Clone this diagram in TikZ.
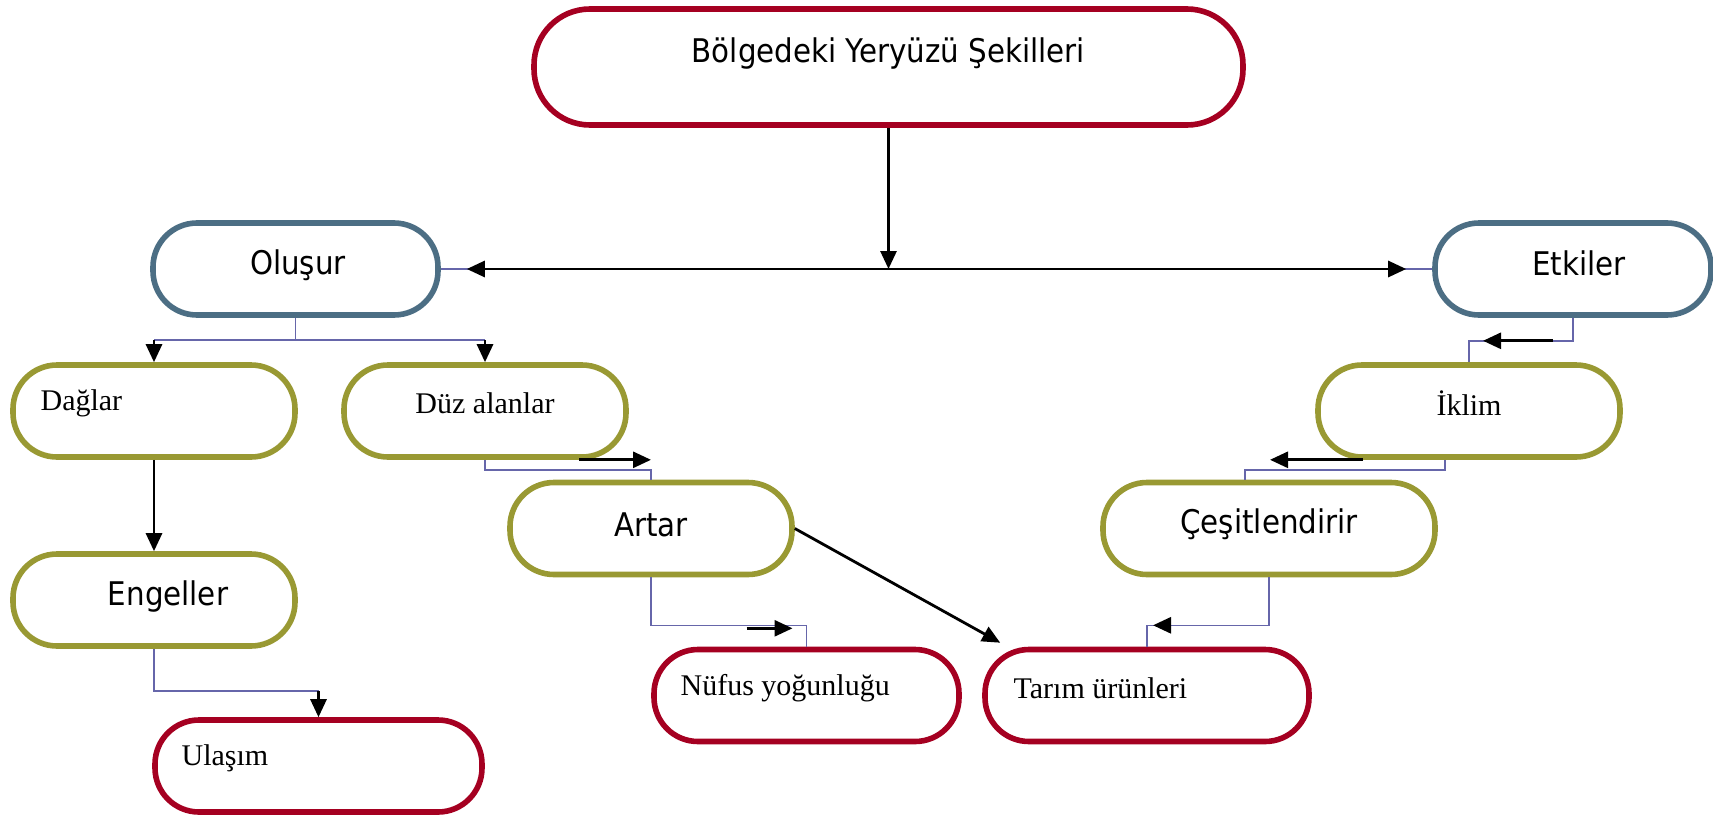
\documentclass[tikz,border=0pt]{standalone}
\usepackage{fontspec}
\setmainfont{Liberation Serif}
\newfontfamily\labelsans{DejaVu Sans Condensed}
\usetikzlibrary{arrows.meta,calc}
\definecolor{mapred}{RGB}{165, 0, 33}
\definecolor{mapslate}{RGB}{76, 110, 132}
\definecolor{mapolive}{RGB}{153, 153, 51}
\definecolor{linkblue}{RGB}{102, 102, 170}

\tikzset{
  pill/.style={draw, fill=white, line width=2.8pt, rounded corners=22pt, minimum height=46pt, inner sep=0pt},
  lblsans/.style={font=\labelsans\fontsize{16.3}{19}\selectfont, inner sep=0pt},
  lblserif/.style={font=\fontsize{15}{18}\selectfont, inner sep=0pt},
  conn/.style={draw=linkblue, line width=0.8pt},
  arr/.style={black, line width=1.4pt}
}

\begin{document}
\begin{tikzpicture}[x=0.5pt, y=-0.5pt, >={Triangle[length=9pt, width=8pt]}]
    \useasboundingbox (0,0) rectangle (1713,819);

    % Title box and the two main branches
    \node[pill, draw=mapred, minimum width=354.5pt, minimum height=58pt, rounded corners=28pt,
        label={[lblsans, yshift=6.75pt]center:Bölgedeki Yeryüzü Şekilleri}] (top) at (888.5, 67) {};
    \node[pill, draw=mapslate, minimum width=142.5pt,
        label={[lblsans, xshift=1.25pt, yshift=1.75pt]center:Oluşur}] (olusur) at (295.5, 269) {};
    \node[pill, draw=mapslate, minimum width=138pt,
        label={[lblsans, xshift=3pt, yshift=3pt]center:Etkiler}] (etkiler) at (1573, 269) {};

    % Left side
    \node[pill, draw=mapolive, minimum width=141pt,
        label={[lblserif, anchor=west, xshift=15pt, yshift=4pt]west:Dağlar}] (daglar) at (154, 411) {};
    \node[pill, draw=mapolive, minimum width=141pt,
        label={[lblserif, yshift=4pt]center:Düz alanlar}] (duz) at (485, 411) {};
    \node[pill, draw=mapolive, minimum width=141pt,
        label={[lblsans, xshift=7pt, yshift=1.75pt]center:Engeller}] (engeller) at (154, 600) {};
    \node[pill, draw=mapred, minimum width=163.5pt,
        label={[lblserif, anchor=west, xshift=14.5pt, yshift=4pt]west:Ulaşım}] (ulasim) at (318.5, 766) {};
    \node[pill, draw=mapolive, minimum width=141pt,
        label={[lblsans, yshift=2pt]center:Artar}] (artar) at (651, 528.5) {};
    \node[pill, draw=mapred, minimum width=152.5pt,
        label={[lblserif, anchor=west, xshift=14.5pt, yshift=3.5pt]west:Nüfus yoğunluğu}] (nufus) at (806.5, 695.5) {};

    % Right side
    \node[pill, draw=mapred, minimum width=162pt,
        label={[lblserif, anchor=west, xshift=15.5pt, yshift=3.5pt]west:Tarım ürünleri}] (tarim) at (1147, 695.5) {};
    \node[pill, draw=mapolive, minimum width=151pt,
        label={[lblserif, yshift=4pt]center:İklim}] (iklim) at (1469, 411) {};
    \node[pill, draw=mapolive, minimum width=166pt,
        label={[lblsans, yshift=2pt]center:Çeşitlendirir}] (cesit) at (1269, 528.5) {};

    % Main bus
    \coordinate (busmid) at (top.south |- olusur.east);
    \draw[conn] (olusur.east) -- (etkiler.west);
    \draw[arr, ->] (top.south) -- (busmid);
    \draw[arr, <->] ($(olusur.east)+(26,0)$) -- ($(etkiler.west)+(-26,0)$);

    % Oluşur branch
    \draw[conn] (olusur.south) -- ++(0,22) coordinate (ob);
    \draw[conn] (ob -| daglar.north) -- (ob -| duz.north);
    \draw[arr, ->] (ob -| daglar.north) -- (daglar.north);
    \draw[arr, ->] (ob -| duz.north) -- (duz.north);
    \draw[arr, ->] (daglar.south) -- (engeller.north);
    \draw[conn] (engeller.south) -- ++(0,42) coordinate (eb) -- (eb -| ulasim.north);
    \draw[arr, ->] (eb -| ulasim.north) -- (ulasim.north);
    \draw[conn] (duz.south) -- ++(0,10) -| (artar.north);
    \draw[arr, ->] ($(artar.north |- duz.south)+(-72,0)$) -- (artar.north |- duz.south);
    \draw[conn] (artar.south) -- ++(0,48) coordinate (ab) -| (nufus.north);
    \draw[arr, ->] ($(ab -| nufus.north)+(-60,3)$) -- ($(ab -| nufus.north)+(-14,3)$);
    \draw[arr, ->] (artar.east) -- ($(tarim.north west)+(18,-4)$);

    % Etkiler branch
    \draw[conn] (etkiler.south) -- ++(0,23) coordinate (kb) -| (iklim.north);
    \draw[arr, ->] ($(kb -| etkiler.south)+(-20,0)$) -- ($(kb -| iklim.north)+(14,0)$);
    \draw[conn] ([xshift=-12pt]iklim.south) -- ++(0,10) -| ([xshift=-12pt]cesit.north);
    \draw[arr, ->] ($(iklim.south)+(-106,0)$) -- ($(iklim.south)+(-199,0)$);
    \draw[conn] (cesit.south) -- ++(0,48) coordinate (cb) -| (tarim.north);
    \draw[arr, ->] ($(cb -| tarim.north)+(24,0)$) -- ($(cb -| tarim.north)+(6,0)$);
\end{tikzpicture}
\end{document}
